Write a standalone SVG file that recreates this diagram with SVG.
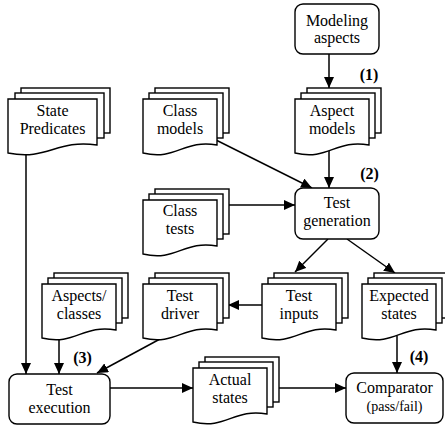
<svg xmlns="http://www.w3.org/2000/svg" xmlns:xlink="http://www.w3.org/1999/xlink" width="445" height="427" viewBox="0 0 445 427" font-family="Liberation Serif, Times New Roman, DejaVu Serif, serif">
<style>
.box{fill:#fff;stroke:#000;stroke-width:1.4}
.sheet{fill:#fff;stroke:#000;stroke-width:1.4}
.t{font-size:16px;text-anchor:middle;fill:#000}
.s{font-size:14px}
.lbl{font-size:16px;font-weight:bold;text-anchor:middle;fill:#000}
.c{fill:none;stroke:#000;stroke-width:1.5}
</style>
<defs>
<marker id="ah" markerUnits="userSpaceOnUse" markerWidth="11" markerHeight="10" refX="11" refY="5" orient="auto">
<path d="M0,0 L11,5 L0,10 Z" fill="#000"/>
</marker>
<g id="doc74">
<rect class="sheet" x="12" y="-11" width="74" height="45"/>
<rect class="sheet" x="6" y="-6" width="74" height="45"/>
<path class="sheet" d="M0,0 H74 V46 C40.7,40 33.3,62 0,54 Z"/>
</g>
</defs>
<rect width="445" height="427" fill="#fff"/>

<g id="connectors">
<path class="c" marker-end="url(#ah)" d="M329,54 V88"/>
<path class="c" marker-end="url(#ah)" d="M329,150 V188"/>
<path class="c" marker-end="url(#ah)" d="M214,139 L312,188"/>
<path class="c" marker-end="url(#ah)" d="M229,205 H295"/>
<path class="c" marker-end="url(#ah)" d="M328,239 L295,272"/>
<path class="c" marker-end="url(#ah)" d="M347,239 L395,273"/>
<path class="c" marker-end="url(#ah)" d="M262,305 H228"/>
<path class="c" marker-end="url(#ah)" d="M26,154 V374"/>
<path class="c" marker-end="url(#ah)" d="M59,339 V374"/>
<path class="c" marker-end="url(#ah)" d="M160,339 L97,373"/>
<path class="c" marker-end="url(#ah)" d="M110,388 H193"/>
<path class="c" marker-end="url(#ah)" d="M279,388 H346"/>
<path class="c" marker-end="url(#ah)" d="M397,336 V373"/>
</g>

<g id="modeling-aspects">
<rect class="box" x="295" y="4" width="84" height="50" rx="8"/>
<text class="t" x="337" y="26" font-family="Liberation Serif, serif">Modeling</text>
<text class="t" x="337" y="43" font-family="Liberation Serif, serif">aspects</text>
</g>

<g id="state-predicates">
<rect class="sheet" x="21" y="88" width="89" height="45"/>
<rect class="sheet" x="15" y="93" width="89" height="45"/>
<path class="sheet" d="M8,99 H97 V145 C56,139 48,161 8,153 Z"/>
<text class="t" x="52.5" y="116">State</text>
<text class="t" x="52.5" y="134">Predicates</text>
</g>

<g id="class-models">
<use xlink:href="#doc74" transform="translate(143,99)"/>
<text class="t" x="180" y="116">Class</text>
<text class="t" x="180" y="134">models</text>
</g>

<g id="aspect-models">
<use xlink:href="#doc74" transform="translate(295,99)"/>
<text class="t" x="332" y="116">Aspect</text>
<text class="t" x="332" y="134">models</text>
</g>

<g id="label-1"><text class="lbl" x="369" y="80">(1)</text></g>
<g id="label-2"><text class="lbl" x="369.5" y="179">(2)</text></g>
<g id="label-3"><text class="lbl" x="82.5" y="363">(3)</text></g>
<g id="label-4"><text class="lbl" x="419" y="362">(4)</text></g>

<g id="class-tests">
<use xlink:href="#doc74" transform="translate(143,200)"/>
<text class="t" x="180" y="216">Class</text>
<text class="t" x="180" y="234">tests</text>
</g>

<g id="test-generation">
<rect class="box" x="295" y="188" width="84" height="51" rx="8"/>
<text class="t" x="337" y="208">Test</text>
<text class="t" x="337" y="226">generation</text>
</g>

<g id="aspects-classes">
<use xlink:href="#doc74" transform="translate(42,284)"/>
<text class="t" x="79" y="301">Aspects/</text>
<text class="t" x="79" y="319">classes</text>
</g>

<g id="test-driver">
<use xlink:href="#doc74" transform="translate(143,284)"/>
<text class="t" x="180" y="301">Test</text>
<text class="t" x="180" y="319">driver</text>
</g>

<g id="test-inputs">
<use xlink:href="#doc74" transform="translate(262,284)"/>
<text class="t" x="299" y="301">Test</text>
<text class="t" x="299" y="319">inputs</text>
</g>

<g id="expected-states">
<use xlink:href="#doc74" transform="translate(362,284)"/>
<text class="t" x="399" y="301">Expected</text>
<text class="t" x="399" y="319">states</text>
</g>

<g id="test-execution">
<rect class="box" x="9" y="374" width="101" height="50" rx="8"/>
<text class="t" x="59.5" y="395">Test</text>
<text class="t" x="59.5" y="413">execution</text>
</g>

<g id="actual-states">
<use xlink:href="#doc74" transform="translate(193,368)"/>
<text class="t" x="230" y="385">Actual</text>
<text class="t" x="230" y="403">states</text>
</g>

<g id="comparator">
<rect class="box" x="346" y="373" width="97" height="50" rx="8"/>
<text class="t" x="394.5" y="393">Comparator</text>
<text class="t s" x="394.5" y="411">(pass/fail)</text>
</g>
</svg>
